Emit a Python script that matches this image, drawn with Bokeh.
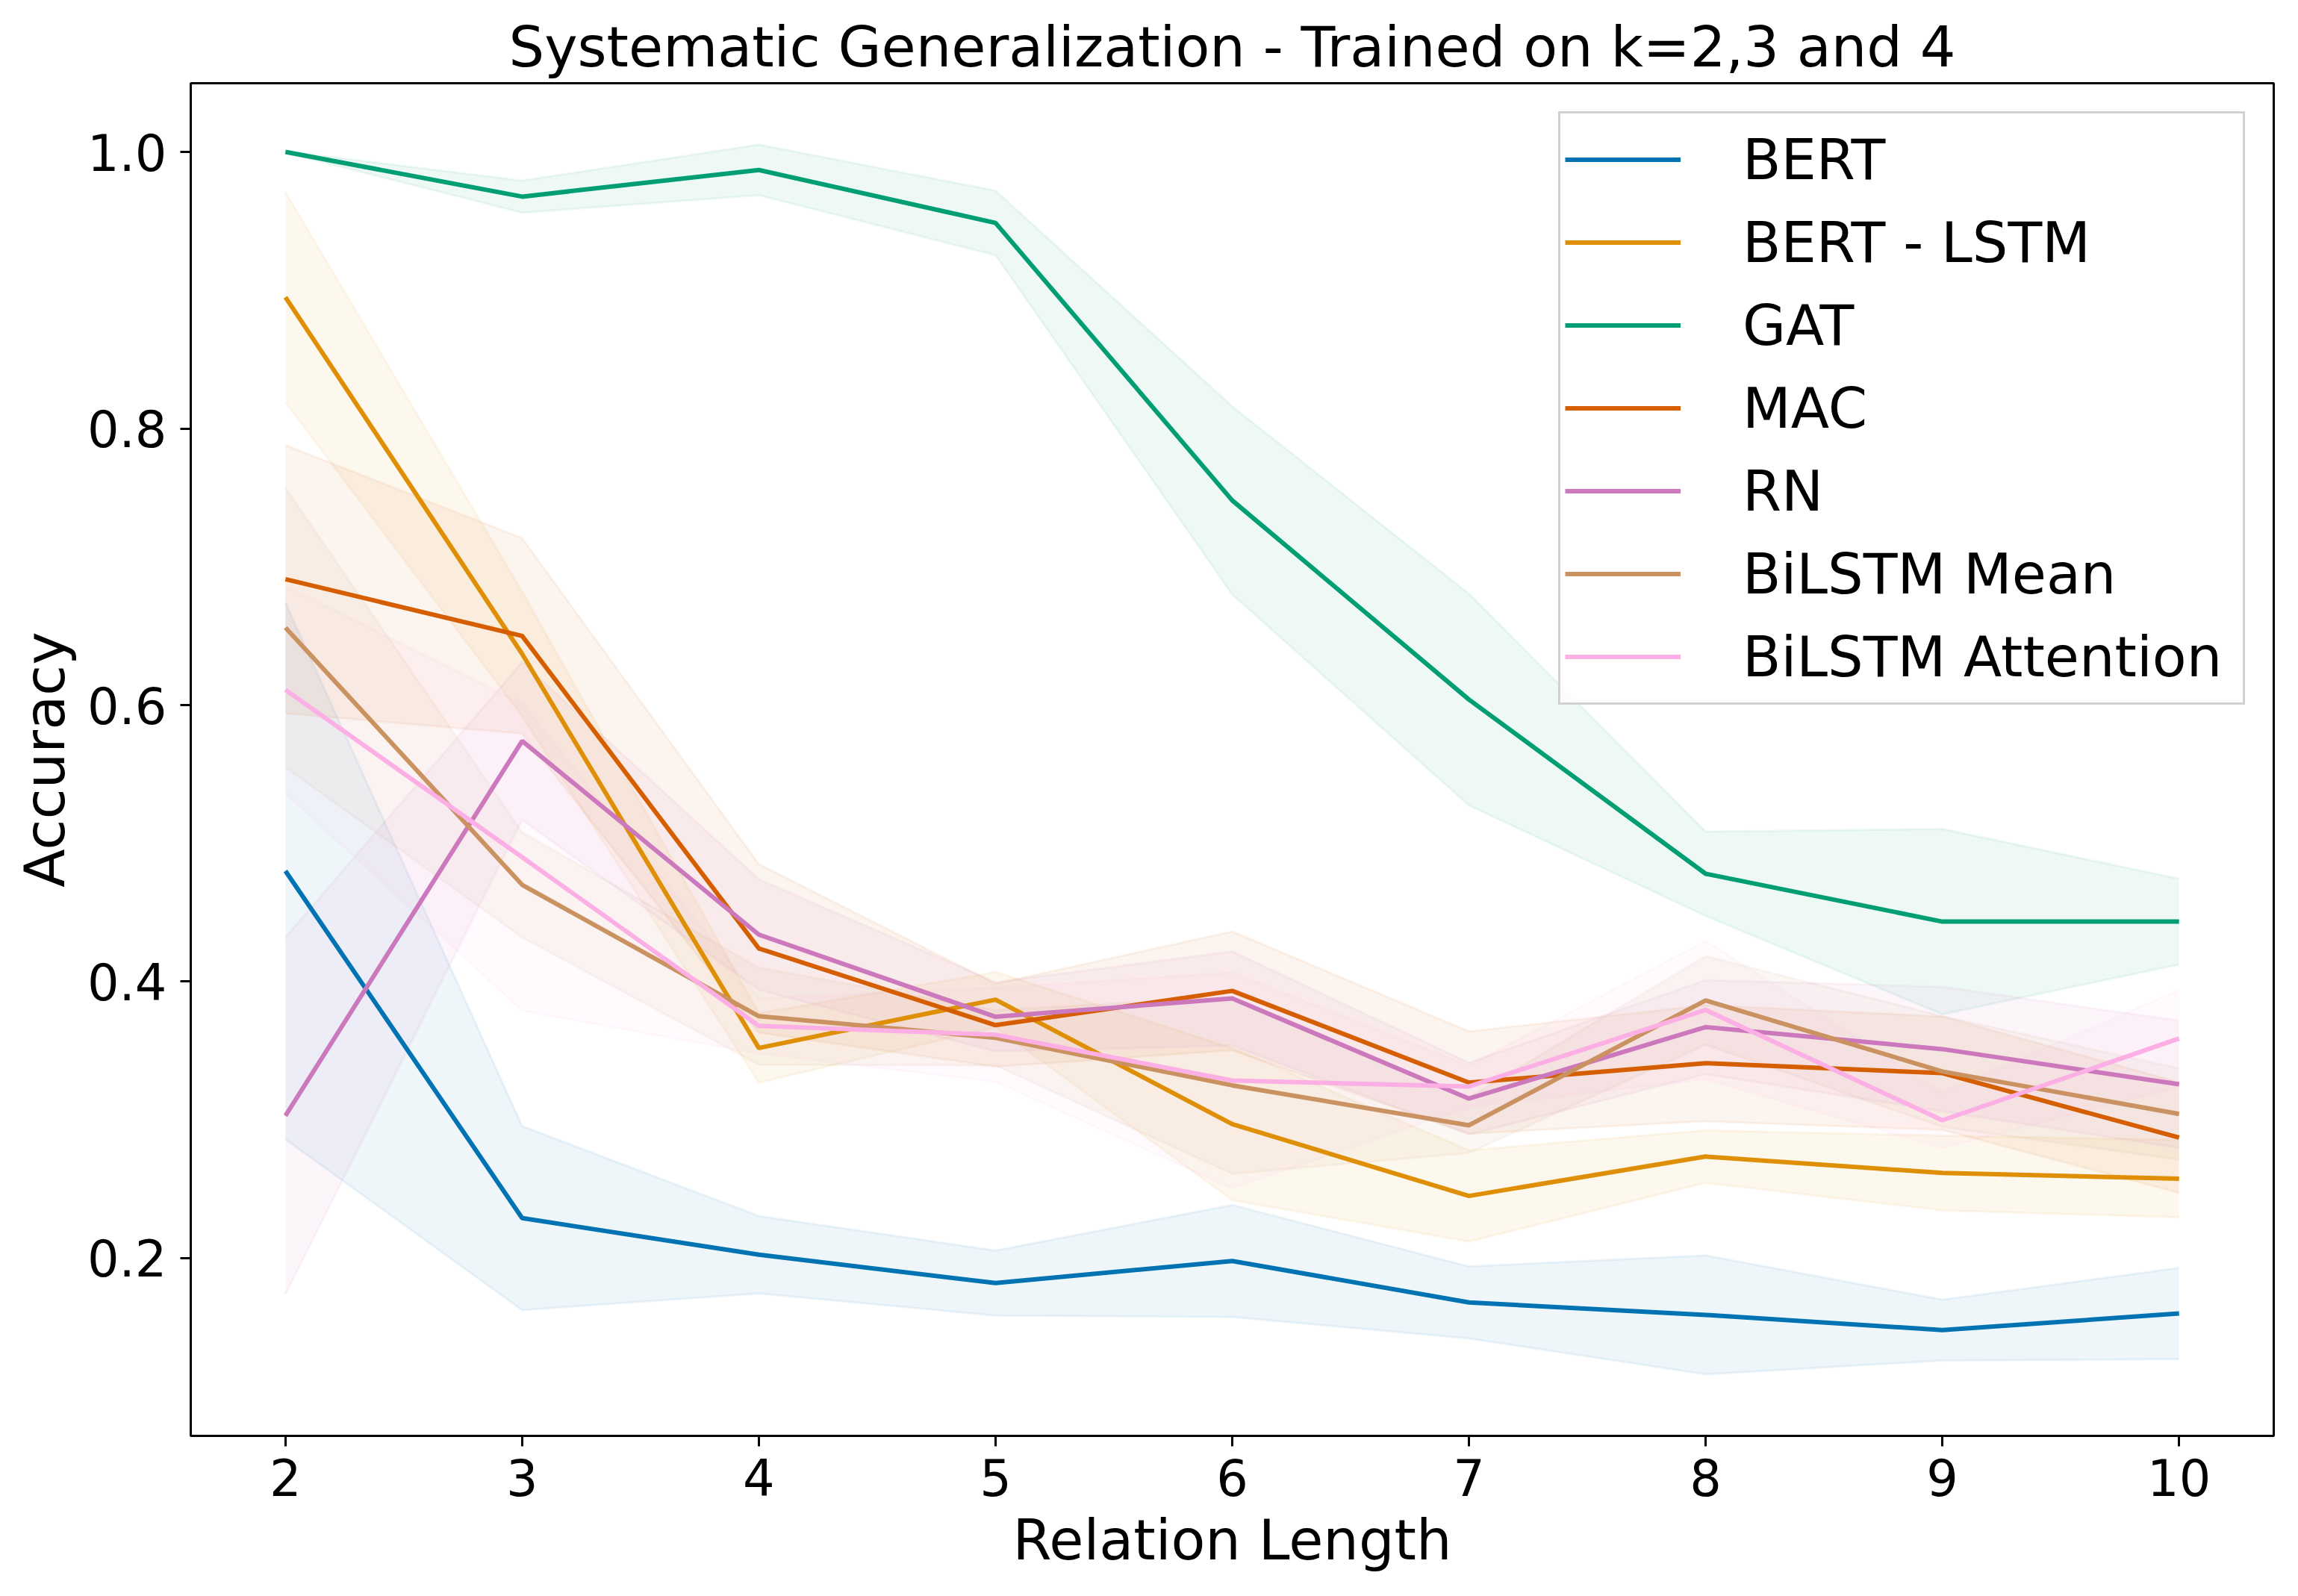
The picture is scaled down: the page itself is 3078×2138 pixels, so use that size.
import numpy as np
from bokeh.plotting import figure
from bokeh.models import Range1d, FixedTicker, PrintfTickFormatter, Legend, LegendItem
from bokeh.embed import file_html
from bokeh.resources import INLINE

relation_length = [2, 3, 4, 5, 6, 7, 8, 9, 10]

names = ["BERT", "BERT - LSTM", "GAT", "MAC", "RN", "BiLSTM Mean", "BiLSTM Attention"]
colors = ["#0173B2", "#DE8F05", "#029E73", "#D55E00", "#CC78BC", "#CA9161", "#FBAFE4"]

bert_mean = [0.480, 0.229, 0.2025, 0.182, 0.198, 0.168, 0.159, 0.148, 0.160]
bert_err = [0.194, 0.0665, 0.028, 0.0235, 0.0405, 0.026, 0.043, 0.022, 0.033]

bert_lstm_mean = [0.895, 0.637, 0.352, 0.387, 0.297, 0.245, 0.2735, 0.2616, 0.2575]
bert_lstm_err = [0.076, 0.045, 0.025, 0.020, 0.055, 0.033, 0.019, 0.027, 0.028]

gat_mean = [1.000, 0.9677, 0.987, 0.9487, 0.748, 0.604, 0.478, 0.4434, 0.4434]
gat_err = [0.0005, 0.0116, 0.0183, 0.0233, 0.068, 0.0765, 0.0305, 0.067, 0.031]

mac_mean = [0.691, 0.650, 0.424, 0.3685, 0.3933, 0.327, 0.341, 0.3338, 0.2872]
mac_err = [0.097, 0.0707, 0.061, 0.030, 0.043, 0.037, 0.042, 0.041, 0.040]

rn_mean = [0.303, 0.574, 0.434, 0.3746, 0.3878, 0.3154, 0.3671, 0.3512, 0.3258]
rn_err = [0.129, 0.057, 0.040, 0.025, 0.034, 0.026, 0.034, 0.045, 0.046]

bilstm_mean_mean = [0.656, 0.470, 0.375, 0.3594, 0.325, 0.2961, 0.3864, 0.335, 0.3043]
bilstm_mean_err = [0.101, 0.038, 0.035, 0.020, 0.064, 0.020, 0.032, 0.040, 0.033]

bilstm_att_mean = [0.611, 0.490, 0.368, 0.3616, 0.3285, 0.3242, 0.3795, 0.2997, 0.3589]
bilstm_att_err = [0.075, 0.111, 0.020, 0.034, 0.078, 0.015, 0.050, 0.020, 0.035]

means = [bert_mean, bert_lstm_mean, gat_mean, mac_mean, rn_mean, bilstm_mean_mean, bilstm_att_mean]
errs = [bert_err, bert_lstm_err, gat_err, mac_err, rn_err, bilstm_mean_err, bilstm_att_err]

x_ticks = [2, 3, 4, 5, 6, 7, 8, 9, 10]
y_ticks = [0.2, 0.4, 0.6, 0.8, 1.0]

FONT = "DejaVu Sans"

p = figure(width=3060, height=2120, output_backend="svg", toolbar_location=None,
           x_range=Range1d(1.6, 10.4), y_range=Range1d(0.0715, 1.0497),
           min_border_left=255, min_border_right=15, min_border_top=111, min_border_bottom=197,
           title="Systematic Generalization - Trained on k=2,3 and 4")

p.title.text_font = FONT
p.title.text_font_size = "75px"
p.title.text_font_style = "normal"
p.title.text_color = "black"
p.title.align = "center"
p.title.standoff = 10

p.xgrid.visible = False
p.ygrid.visible = False
p.outline_line_color = "black"
p.outline_line_width = 3
p.outline_line_alpha = 1.0

for ax in (p.xaxis[0], p.yaxis[0]):
    ax.axis_line_width = 3
    ax.axis_line_color = "black"
    ax.major_tick_line_width = 3
    ax.major_tick_in = 0
    ax.major_tick_out = 14
    ax.minor_tick_line_color = None
    ax.major_label_text_font = FONT
    ax.major_label_text_font_size = "67px"
    ax.major_label_text_color = "black"
    ax.axis_label_text_font = FONT
    ax.axis_label_text_font_size = "75px"
    ax.axis_label_text_font_style = "normal"
    ax.axis_label_text_color = "black"

p.xaxis[0].ticker = FixedTicker(ticks=x_ticks)
p.yaxis[0].ticker = FixedTicker(ticks=y_ticks)
p.yaxis[0].formatter = PrintfTickFormatter(format="%.1f")
p.xaxis[0].axis_label = "Relation Length"
p.yaxis[0].axis_label = "Accuracy"
p.xaxis[0].major_label_standoff = 16
p.yaxis[0].major_label_standoff = 18
p.xaxis[0].axis_label_standoff = 12
p.yaxis[0].axis_label_standoff = 10

# error bands (drawn below every line)
for m, e, c in zip(means, errs, colors):
    m = np.array(m)
    e = np.array(e)
    lo = m - e
    hi = m + e
    p.varea(x=relation_length, y1=lo, y2=hi, fill_color=c, fill_alpha=0.065)
    p.line(relation_length, lo, line_color=c, line_alpha=0.07, line_width=3)
    p.line(relation_length, hi, line_color=c, line_alpha=0.07, line_width=3)

items = []
for name, m, c in zip(names, means, colors):
    r = p.line(relation_length, m, line_color=c, line_width=6)
    items.append(LegendItem(label=name, renderers=[r]))

legend = Legend(items=items, location="top_right")
legend.label_text_font = FONT
legend.label_text_font_size = "75px"
legend.label_text_color = "black"
legend.glyph_width = 155
legend.glyph_height = 111
legend.label_height = 111
legend.label_width = 664
legend.label_standoff = 83
legend.spacing = 0
legend.padding = 6
legend.margin = 38
legend.border_line_color = "#cccccc"
legend.border_line_width = 3
legend.border_line_alpha = 0.9
legend.background_fill_color = "white"
legend.background_fill_alpha = 0.8
p.add_layout(legend)

open("out.html", "w").write(file_html(p, INLINE))
